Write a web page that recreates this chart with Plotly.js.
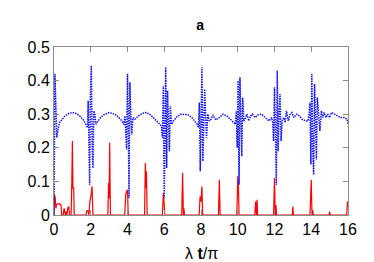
<!DOCTYPE html>
<html>
<head>
<meta charset="utf-8">
<script src="https://cdn.plot.ly/plotly-3.0.1.min.js"></script>
<style>html,body{margin:0;padding:0;background:#fff;}#chart{width:374px;height:262px;}</style>
</head>
<body>
<div id="chart"></div>
<script>
// Blue (dotted) series: time (lambda t / pi) and value
var blueT = [
  0, 0.02, 0.05, 0.1, 0.15, 0.2, 0.3,
  0.45, 0.6, 0.8, 1.0, 1.2, 1.4, 1.6, 1.75,
  1.82, 1.86, 1.9, 1.94, 1.98, 2.03, 2.08, 2.12, 2.17, 2.22, 2.28, 2.35,
  2.5, 2.7, 3.0, 3.3, 3.5, 3.7, 3.8,
  3.86, 3.9, 3.95, 4.0, 4.04, 4.08, 4.13, 4.18, 4.23, 4.3, 4.4,
  4.6, 4.8, 5.0, 5.2, 5.4, 5.6, 5.75,
  5.85, 5.9, 5.95, 6.0, 6.04, 6.08, 6.13, 6.18, 6.22, 6.28, 6.33, 6.4, 6.5,
  6.7, 6.9, 7.1, 7.3, 7.5, 7.7, 7.8,
  7.86, 7.91, 7.96, 8.0, 8.05, 8.1, 8.15, 8.2, 8.25, 8.3, 8.37, 8.45, 8.55, 8.65, 8.8,
  9.0, 9.2, 9.4, 9.6, 9.8,
  9.87, 9.92, 9.97, 10.02, 10.07, 10.12, 10.17, 10.22, 10.27, 10.33, 10.4, 10.5, 10.6, 10.7, 10.8, 10.95, 11.1, 11.3, 11.5, 11.7,
  11.85, 11.9, 11.95, 12.0, 12.05, 12.1, 12.15, 12.2, 12.25, 12.3, 12.36, 12.42, 12.5, 12.58, 12.65, 12.75, 12.85, 12.95, 13.05, 13.2, 13.35, 13.5, 13.7,
  13.82, 13.88, 13.93, 13.98, 14.03, 14.08, 14.13, 14.18, 14.23, 14.28, 14.33, 14.4, 14.47, 14.55, 14.62, 14.7, 14.8, 14.9, 15.0, 15.1, 15.25, 15.4, 15.6, 15.8, 15.95, 16
];
var blueVals = [
  0.0, 0.40, 0.42, 0.33, 0.23, 0.25, 0.275,
  0.285, 0.295, 0.302, 0.305, 0.302, 0.295, 0.283, 0.27,
  0.26, 0.34, 0.2, 0.09, 0.36, 0.445, 0.2, 0.14, 0.31, 0.30, 0.27, 0.275,
  0.288, 0.298, 0.305, 0.30, 0.292, 0.28, 0.27,
  0.295, 0.25, 0.195, 0.42, 0.30, 0.05, 0.395, 0.30, 0.24, 0.29, 0.285,
  0.295, 0.302, 0.305, 0.30, 0.29, 0.28, 0.27,
  0.265, 0.23, 0.385, 0.05, 0.30, 0.44, 0.14, 0.37, 0.30, 0.19, 0.325, 0.27, 0.28,
  0.293, 0.30, 0.30, 0.298, 0.29, 0.278, 0.27,
  0.26, 0.335, 0.13, 0.30, 0.44, 0.16, 0.30, 0.375, 0.30, 0.23, 0.30, 0.28, 0.285, 0.298, 0.283,
  0.29, 0.30, 0.295, 0.285, 0.275,
  0.27, 0.31, 0.20, 0.40, 0.09, 0.41, 0.25, 0.175, 0.35, 0.28, 0.285, 0.30, 0.28, 0.295, 0.30, 0.29, 0.298, 0.30, 0.29, 0.28,
  0.29, 0.275, 0.22, 0.38, 0.25, 0.09, 0.43, 0.19, 0.30, 0.36, 0.22, 0.28, 0.29, 0.275, 0.31, 0.28, 0.30, 0.305, 0.29, 0.30, 0.295, 0.285, 0.28,
  0.28, 0.30, 0.335, 0.15, 0.42, 0.20, 0.12, 0.39, 0.25, 0.165, 0.35, 0.31, 0.25, 0.31, 0.29, 0.305, 0.29, 0.30, 0.29, 0.305, 0.30, 0.295, 0.29, 0.29, 0.285, 0.27
];
// Red (solid) series
var redT = [
  0, 0.03, 0.07, 0.1, 0.14, 0.2, 0.3, 0.38, 0.42, 0.5, 0.55, 0.58, 0.62, 0.66, 0.7, 0.75, 0.8, 0.85, 0.93, 0.97, 1.0, 1.03, 1.07, 1.1,
  1.75, 1.78, 1.85, 1.9, 1.95, 2.02, 2.07, 2.12,
  2.93, 2.97, 3.0, 3.03, 3.07,
  3.85, 3.9, 3.95, 4.0, 4.04,
  4.93, 4.97, 5.0, 5.03, 5.07,
  5.9, 5.95, 6.0, 6.03,
  6.95, 7.0, 7.04, 7.07, 7.1,
  7.9, 7.95, 8.0, 8.05, 8.09,
  8.95, 9.0, 9.04,
  9.95, 10.0, 10.04, 10.07,
  10.93, 10.97, 11.02, 11.05, 11.08,
  11.95, 12.0, 12.04, 12.08, 12.11,
  12.97, 13.0, 13.03,
  13.93, 14.0, 14.04, 14.08, 14.11,
  14.97, 15.0, 15.03,
  15.93, 15.97, 16
];
var redVals = [
  0, 0.06, 0.05, 0.02, 0.03, 0.033, 0.033, 0.03, 0, 0, 0.02, 0, 0, 0.01, 0, 0.02, 0.025, 0, 0, 0.1, 0.22, 0.08, 0.08, 0,
  0, 0.012, 0.012, 0, 0.04, 0.06, 0.085, 0,
  0, 0.095, 0.05, 0.215, 0,
  0, 0.06, 0.07, 0.075, 0,
  0, 0.155, 0.08, 0.13, 0,
  0, 0.065, 0.03, 0,
  0, 0.125, 0, 0.02, 0,
  0, 0.055, 0.04, 0.085, 0,
  0, 0.105, 0,
  0, 0.115, 0.08, 0,
  0, 0.04, 0, 0.045, 0,
  0, 0.11, 0, 0.03, 0,
  0, 0.025, 0,
  0, 0.105, 0, 0.015, 0,
  0, 0.01, 0,
  0, 0.04, 0.03
];
var xTicks = [0, 2, 4, 6, 8, 10, 12, 14, 16];
var yTicks = [0, 0.1, 0.2, 0.3, 0.4, 0.5];
var yTickText = ['0', '0.1', '0.2', '0.3', '0.4', '0.5'];

var FONT = 'Liberation Sans, Arial, Helvetica, sans-serif';
var axisCommon = {
  showgrid: false, zeroline: false, showline: true, linecolor: '#8c8c8c', linewidth: 1,
  mirror: 'ticks', ticks: 'inside', ticklen: 5, tickcolor: '#8c8c8c', tickwidth: 1,
  tickfont: {family: FONT, size: 16, color: '#000'}
};
var traces = [
  {x: redT, y: redVals, type: 'scatter', mode: 'lines', line: {color: 'rgb(255,0,0)', width: 1.2}, hoverinfo: 'skip'},
  {x: blueT, y: blueVals, type: 'scatter', mode: 'lines', line: {color: 'rgb(20,20,245)', width: 1.5, dash: '1.5px,1px'}, hoverinfo: 'skip'}
];
var layout = {
  width: 374, height: 262,
  margin: {l: 54, r: 26, t: 47, b: 47},
  paper_bgcolor: '#fff', plot_bgcolor: '#fff',
  showlegend: false,
  font: {family: FONT, color: '#000'},
  title: {text: '<b>a</b>', font: {family: FONT, size: 14, color: '#000'}, x: 0.535, xanchor: 'center', y: 0.905, yanchor: 'middle', yref: 'container'},
  xaxis: Object.assign({}, axisCommon, {range: [0, 16], tickvals: xTicks, ticktext: xTicks.map(String)}),
  yaxis: Object.assign({}, axisCommon, {range: [0, 0.5], tickvals: yTicks, ticktext: yTickText}),
  annotations: [{
    text: 'λ <b>t</b>/π', xref: 'paper', yref: 'paper', x: 0.5, y: -0.232,
    xanchor: 'center', yanchor: 'middle', showarrow: false,
    font: {family: FONT, size: 16, color: '#000'}
  }]
};
Plotly.newPlot('chart', traces, layout, {staticPlot: true, displayModeBar: false});
</script>
</body>
</html>
